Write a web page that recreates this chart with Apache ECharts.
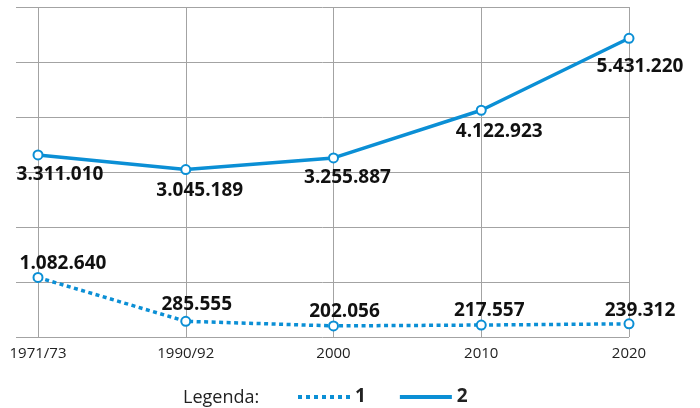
<!DOCTYPE html>
<html>
<head>
<meta charset="utf-8">
<script src="https://cdn.jsdelivr.net/npm/echarts@6/dist/echarts.min.js"></script>
<style>html,body{margin:0;padding:0;background:#fff}#c{width:700px;height:408px}</style>
</head>
<body>
<div id="c"></div>
<script>
const categories = ['1971/73', '1990/92', '2000', '2010', '2020'];
const series1Values = [1082640, 285555, 202056, 217557, 239312];
const series2Values = [3311010, 3045189, 3255887, 4122923, 5431220];
const seriesNames = ['1', '2'];
const legendTitle = 'Legenda:';

const BLUE = '#0b8fd5';
const GRID = '#a3a3a3';
const FONT = '"Open Sans", "Noto Sans", sans-serif';

// label placement offsets (styling only)
const s1Offsets = [[25, 6], [11, 3], [11, 6], [8, 6], [11, 7]];
const s2Offsets = [[22, 0], [14, 1], [14, 0], [18, 1], [11, 8]];

function fmt(v) {
  return String(v).replace(/\B(?=(\d{3})+(?!\d))/g, '.');
}

const dotPath = (function () {
  let p = '';
  for (let i = 0; i < 7; i++) {
    const x = i * 80;
    p += 'M' + x + ',0h40v40h-40z';
  }
  return 'path://' + p;
})();

const chart = echarts.init(document.getElementById('c'), null, { renderer: 'canvas' });
chart.setOption({
  animation: false,
  backgroundColor: '#fff',
  title: {
    text: legendTitle,
    left: 183,
    top: 386,
    padding: 0,
    textStyle: { fontFamily: FONT, fontSize: 18, fontWeight: 'normal', color: '#222', lineHeight: 24 }
  },
  legend: {
    left: 298,
    top: 386,
    padding: 0,
    itemWidth: 52,
    itemHeight: 4,
    itemGap: 34,
    textStyle: { fontFamily: FONT, fontSize: 19, fontWeight: 'bold', color: '#222', lineHeight: 22 },
    data: [
      { name: seriesNames[0], icon: dotPath, itemStyle: { color: BLUE, borderWidth: 0 } },
      { name: seriesNames[1], icon: 'rect', itemStyle: { color: BLUE, borderWidth: 0 } }
    ]
  },
  grid: [
    { left: 16, right: 71, top: 7, height: 330 },
    { left: 38, right: 71, top: 7, height: 330 }
  ],
  xAxis: [
    { gridIndex: 0, type: 'value', min: 0, max: 1, show: false },
    {
      gridIndex: 1, type: 'category', data: categories, boundaryGap: false,
      axisLine: { show: false }, axisTick: { show: false },
      axisLabel: { fontFamily: FONT, fontSize: 15, color: '#222', margin: 9 },
      splitLine: { show: true, lineStyle: { color: GRID, width: 1 } }
    }
  ],
  yAxis: [
    {
      gridIndex: 0, type: 'value', min: 0, max: 6000000, interval: 1000000,
      axisLine: { show: false }, axisTick: { show: false }, axisLabel: { show: false },
      splitLine: { show: true, lineStyle: { color: GRID, width: 1 } }
    },
    {
      gridIndex: 1, type: 'value', min: 0, max: 6000000, interval: 1000000,
      show: false, splitLine: { show: false }
    }
  ],
  series: [
    {
      name: seriesNames[0], type: 'line', xAxisIndex: 1, yAxisIndex: 1,
      data: series1Values.map((v, i) => ({ value: v, label: { offset: s1Offsets[i] } })),
      symbol: 'emptyCircle', symbolSize: 9,
      itemStyle: { color: BLUE, borderWidth: 1.5 },
      lineStyle: { color: BLUE, width: 3.5, type: [4, 3.5] },
      label: {
        show: true, position: 'top', distance: 5,
        formatter: p => fmt(p.value),
        fontFamily: FONT, fontSize: 19, fontWeight: 'bold', color: '#111'
      },
      z: 3
    },
    {
      name: seriesNames[1], type: 'line', xAxisIndex: 1, yAxisIndex: 1,
      data: series2Values.map((v, i) => ({ value: v, label: { offset: s2Offsets[i] } })),
      symbol: 'emptyCircle', symbolSize: 9,
      itemStyle: { color: BLUE, borderWidth: 1.5 },
      lineStyle: { color: BLUE, width: 3.5 },
      label: {
        show: true, position: 'bottom', distance: 5,
        formatter: p => fmt(p.value),
        fontFamily: FONT, fontSize: 19, fontWeight: 'bold', color: '#111'
      },
      z: 3
    }
  ]
});
</script>
</body>
</html>
